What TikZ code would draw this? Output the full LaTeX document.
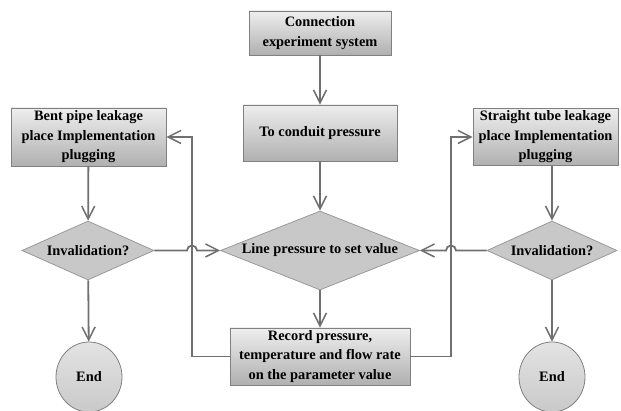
\documentclass[tikz,border=0pt]{standalone}
\usepackage{fontspec}
\setmainfont{Liberation Serif}
\usetikzlibrary{shapes.geometric,arrows.meta}

\definecolor{linegray}{RGB}{112,112,112}
\definecolor{edgegray}{RGB}{128,128,128}
\definecolor{boxtop}{RGB}{238,238,238}
\definecolor{boxbot}{RGB}{176,176,176}
\definecolor{diafill}{RGB}{200,200,200}

\tikzset{
  stepbox/.style={rectangle, draw=edgegray, line width=0.8pt, top color=boxtop, bottom color=boxbot,
    align=center, inner sep=1pt, font=\fontsize{14.4}{19.5}\selectfont\bfseries},
  decision/.style={diamond, draw=edgegray!80, line width=0.8pt, fill=diafill, inner sep=0pt,
    font=\fontsize{14.4}{19.5}\selectfont\bfseries},
  finish/.style={ellipse, draw=edgegray, line width=0.8pt, top color=gray!22, bottom color=gray!42,
    inner sep=0pt, minimum width=66pt, minimum height=70pt, font=\fontsize{14.4}{19.5}\selectfont\bfseries},
  flow/.style={draw=linegray, line width=1.8pt, -{Straight Barb[length=13pt,width=13pt,line width=1.5pt]}},
}

\begin{document}
\begin{tikzpicture}[x=1pt,y=1pt]
\useasboundingbox (0,0) rectangle (621,411);
% middle column
\node[stepbox, minimum width=142pt, minimum height=44pt] (conn) at (320,378) {Connection\\experiment system};
\node[stepbox, minimum width=154pt, minimum height=56pt] (press) at (320,278) {To conduit pressure};
\node[decision, minimum width=199pt, minimum height=79pt] (linep) at (320,160.5) {\makebox[0pt]{Line pressure to set value}};
\node[stepbox, minimum width=180pt, minimum height=57pt] (record) at (320,54.5) {Record pressure,\\temperature and flow rate\\on the parameter value};
% left column
\node[stepbox, minimum width=155pt, minimum height=58pt] (bent) at (88.5,274) {Bent pipe leakage\\place Implementation\\plugging};
\node[decision, minimum width=132pt, minimum height=59pt] (inv1) at (88,160.5) {\makebox[0pt]{Invalidation?}};
\node[finish] (end1) at (89,34) {End};
% right column
\node[stepbox, minimum width=145pt, minimum height=57pt] (straight) at (545.5,274) {Straight tube leakage\\place Implementation\\plugging};
\node[decision, minimum width=130pt, minimum height=59pt] (inv2) at (552,160.5) {\makebox[0pt]{Invalidation?}};
\node[finish] (end2) at (552,34) {End};
% loop corners
\coordinate (cl) at (192,274);
\coordinate (cr) at (451,274);

\draw[flow] (conn) -- (press);
\draw[flow] (press) -- (linep);
\draw[flow] (linep) -- (record);
\draw[flow] (bent) -- (inv1);
\draw[flow] (straight.south -| inv2.north) -- (inv2.north);
\draw[flow] (inv1) -- (end1);
\draw[flow] (inv2) -- (end2);
\draw[flow] (record.west) -| (cl) -- (bent.east);
\draw[flow] (record.east) -| (cr) -- (straight.west);
\draw[flow] (inv1.east) -- ([xshift=-5pt]cl |- linep.west) arc[start angle=180, end angle=0, radius=5pt] -- (linep.west);
\draw[flow] (inv2.west) -- ([xshift=5pt]cr |- linep.east) arc[start angle=0, end angle=180, radius=5pt] -- (linep.east);
\end{tikzpicture}
\end{document}
